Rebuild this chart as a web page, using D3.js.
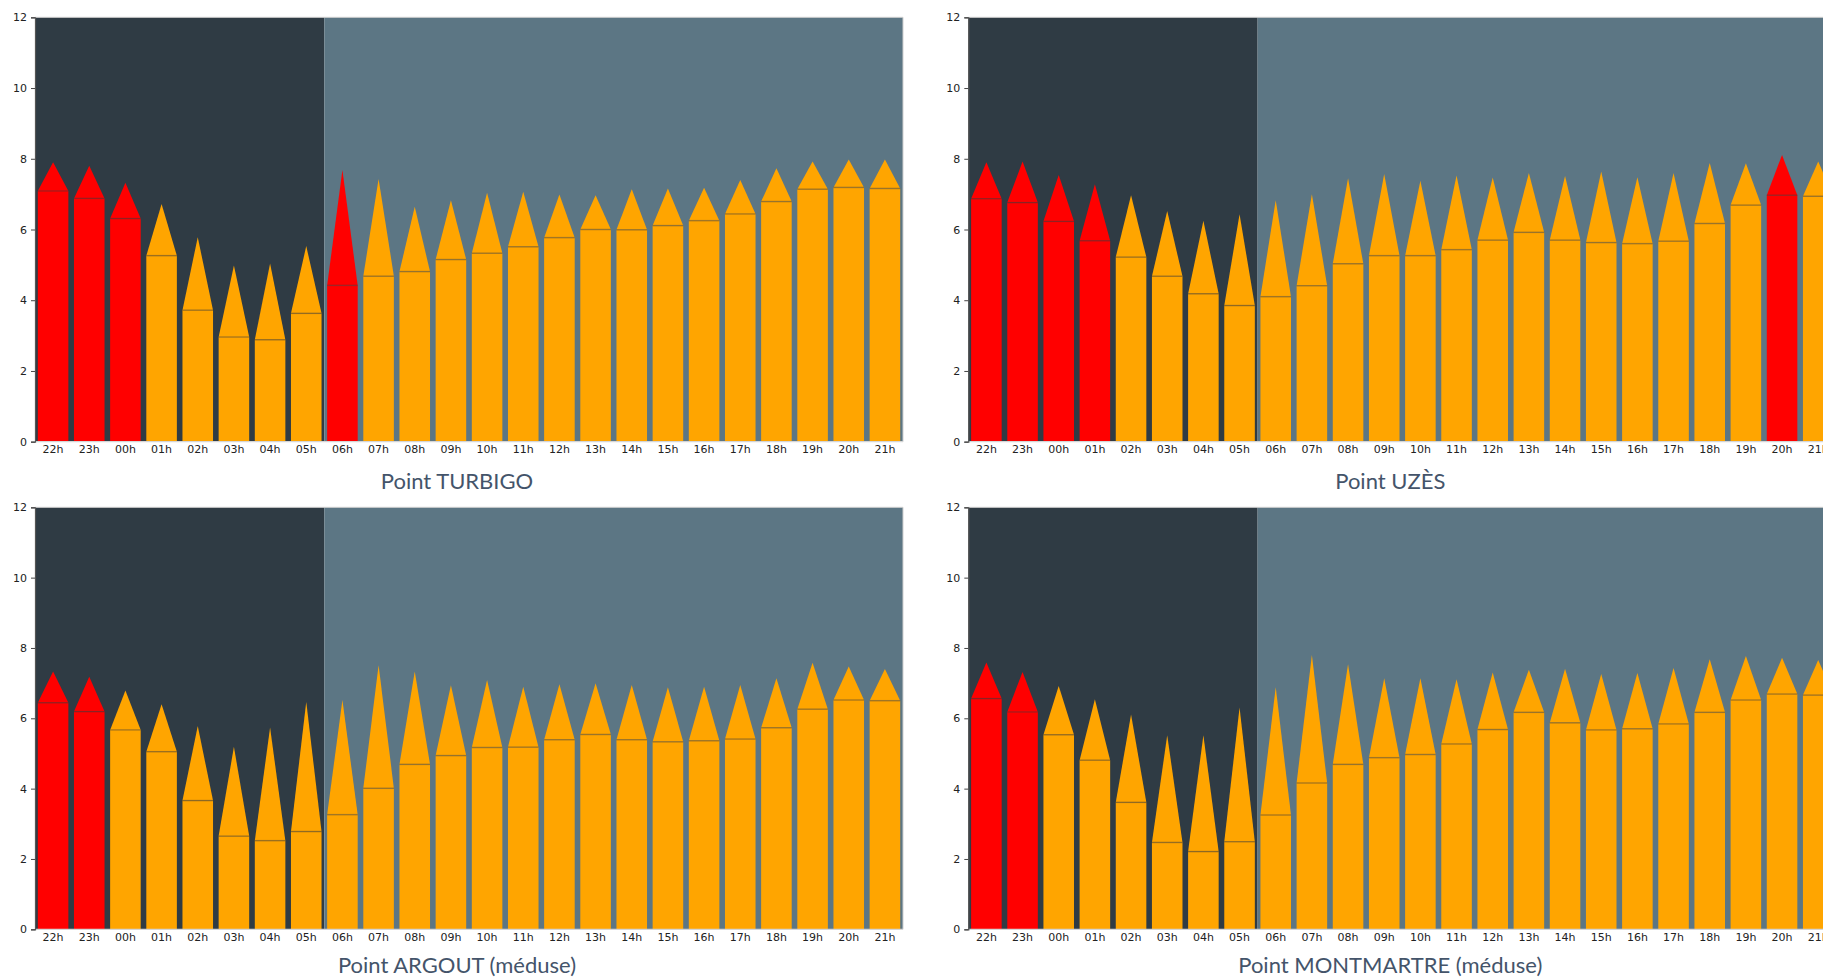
<!DOCTYPE html>
<html>
<head>
<meta charset="utf-8">
<script src="https://cdn.jsdelivr.net/npm/d3@7"></script>
<style>
  html, body { margin: 0; padding: 0; background: #ffffff; overflow: hidden; }
  svg { display: block; }
  .tick text { font-family: "DejaVu Sans", sans-serif; font-size: 11px; fill: #222; }
  .title { font-family: Lato, "Open Sans", sans-serif; font-size: 22px; fill: #44546A; }
</style>
</head>
<body>
<svg id="chart" width="1823" height="979"></svg>
<script>
// ---------- data ----------
const hours = ["22h","23h","00h","01h","02h","03h","04h","05h","06h","07h","08h","09h","10h","11h","12h","13h","14h","15h","16h","17h","18h","19h","20h","21h"];
const nightHours = ["22h","23h","00h","01h","02h","03h","04h","05h"];
const yTicks = [0, 2, 4, 6, 8, 10, 12];

const turbigoTitle = "Point TURBIGO";
const turbigoValue = [7.09,6.88,6.31,5.26,3.72,2.96,2.88,3.63,4.42,4.68,4.81,5.15,5.33,5.51,5.77,6.00,5.99,6.11,6.25,6.44,6.79,7.14,7.19,7.16];
const turbigoPeak  = [7.90,7.80,7.32,6.72,5.78,4.98,5.04,5.53,7.68,7.43,6.64,6.83,7.04,7.07,6.99,6.97,7.14,7.16,7.18,7.40,7.73,7.92,7.98,7.98];
const turbigoRed   = ["22h","23h","00h","06h"];

const uzesTitle = "Point UZÈS";
const uzesValue = [6.87,6.76,6.23,5.68,5.22,4.68,4.18,3.85,4.10,4.41,5.03,5.26,5.26,5.43,5.70,5.92,5.70,5.63,5.60,5.67,6.17,6.69,6.97,6.94];
const uzesPeak  = [7.90,7.92,7.54,7.28,6.97,6.52,6.25,6.43,6.83,7.00,7.45,7.57,7.38,7.53,7.47,7.60,7.51,7.64,7.48,7.60,7.88,7.87,8.11,7.92];
const uzesRed   = ["22h","23h","00h","01h","20h"];

const argoutTitle = "Point ARGOUT (méduse)";
const argoutValue = [6.44,6.19,5.67,5.05,3.66,2.65,2.52,2.78,3.26,4.01,4.69,4.94,5.17,5.18,5.39,5.54,5.39,5.33,5.36,5.41,5.73,6.26,6.52,6.50];
const argoutPeak  = [7.33,7.18,6.79,6.40,5.78,5.19,5.74,6.47,6.52,7.51,7.33,6.94,7.09,6.90,6.97,7.00,6.95,6.88,6.90,6.95,7.14,7.58,7.47,7.40];
const argoutRed   = ["22h","23h"];

const montmartreTitle = "Point MONTMARTRE (méduse)";
const montmartreValue = [6.56,6.18,5.53,4.81,3.61,2.47,2.21,2.49,3.25,4.16,4.69,4.88,4.97,5.27,5.68,6.17,5.87,5.67,5.70,5.84,6.17,6.52,6.69,6.66];
const montmartrePeak  = [7.59,7.32,6.92,6.54,6.11,5.52,5.52,6.31,6.88,7.80,7.54,7.14,7.14,7.11,7.30,7.38,7.41,7.26,7.29,7.43,7.68,7.77,7.72,7.66];
const montmartreRed   = ["22h","23h"];

// ---------- styles ----------
const NIGHT_BG = "#2F3B44";
const DAY_BG = "#5C7684";
const RED = "#FF0000";
const ORANGE = "#FFA500";

const svg = d3.select("#chart");

function panel(title, values, peaks, reds, x0, x1, yTop, yBottom, titleOffset) {
  const g = svg.append("g");
  const x = d3.scaleBand().domain(hours).range([x0, x1]).paddingInner(0.155).paddingOuter(0.0775);
  const y = d3.scaleLinear().domain([0, 12]).range([yBottom, yTop]);
  const step = x.step();
  const nightEnd = x(nightHours[nightHours.length - 1]) + x.bandwidth() + (step - x.bandwidth()) / 2;

  // backgrounds
  g.append("rect").attr("x", x0).attr("y", y(12)).attr("width", nightEnd - x0).attr("height", y(0) - y(12)).attr("fill", NIGHT_BG);
  g.append("rect").attr("x", nightEnd).attr("y", y(12)).attr("width", x1 - nightEnd).attr("height", y(0) - y(12)).attr("fill", DAY_BG);

  const data = hours.map((h, i) => ({ h, v: values[i], p: peaks[i], red: reds.includes(h) }));

  // bars
  g.selectAll(".bar").data(data).enter().append("rect")
    .attr("x", d => x(d.h)).attr("y", d => y(d.v))
    .attr("width", x.bandwidth()).attr("height", d => y(0) - y(d.v))
    .attr("fill", d => d.red ? RED : ORANGE);

  // triangles
  g.selectAll(".tri").data(data).enter().append("path")
    .attr("d", d => {
      const l = x(d.h), r = x(d.h) + x.bandwidth(), c = x(d.h) + x.bandwidth() / 2;
      return `M${l},${y(d.v)}L${c},${y(d.p)}L${r},${y(d.v)}Z`;
    })
    .attr("fill", d => d.red ? RED : ORANGE);

  // top edge line of each bar
  g.selectAll(".edge").data(data).enter().append("line")
    .attr("x1", d => x(d.h)).attr("x2", d => x(d.h) + x.bandwidth())
    .attr("y1", d => y(d.v)).attr("y2", d => y(d.v))
    .attr("stroke", "rgba(60,60,60,0.4)").attr("stroke-width", 1.5);

  // spines (top, right, bottom)
  g.append("line").attr("x1", x0).attr("x2", x1).attr("y1", y(12)).attr("y2", y(12)).attr("stroke", "#cfcfcf").attr("stroke-width", 1);
  g.append("line").attr("x1", x1).attr("x2", x1).attr("y1", y(12)).attr("y2", y(0)).attr("stroke", "#cfcfcf").attr("stroke-width", 1);
  g.append("line").attr("x1", x0).attr("x2", x1).attr("y1", y(0)).attr("y2", y(0)).attr("stroke", "#d5d5d5").attr("stroke-width", 1.2);

  // y axis
  const ya = g.append("g").attr("transform", `translate(${x0},0)`)
    .call(d3.axisLeft(y).tickValues(yTicks).tickSize(4).tickPadding(4).tickFormat(d3.format("d")));
  ya.select(".domain").attr("stroke", "#555").attr("stroke-width", 1.2);
  ya.selectAll(".tick line").attr("stroke", "#444");

  // x axis labels
  const xa = g.append("g").attr("transform", `translate(0,${y(0)})`)
    .call(d3.axisBottom(x).tickSize(0).tickPadding(4));
  xa.select(".domain").remove();

  // title
  g.append("text").attr("class", "title")
    .attr("x", (x0 + x1) / 2 - 12).attr("y", y(0) + titleOffset)
    .attr("text-anchor", "middle").text(title);
}

panel(turbigoTitle, turbigoValue, turbigoPeak, turbigoRed, 35, 903, 17.3, 441.7, 47);
panel(uzesTitle, uzesValue, uzesPeak, uzesRed, 968.3, 1836.3, 17.3, 441.7, 47);
panel(argoutTitle, argoutValue, argoutPeak, argoutRed, 35, 903, 507.3, 929.3, 44);
panel(montmartreTitle, montmartreValue, montmartrePeak, montmartreRed, 968.3, 1836.3, 507.3, 929.3, 44);
</script>
</body>
</html>
